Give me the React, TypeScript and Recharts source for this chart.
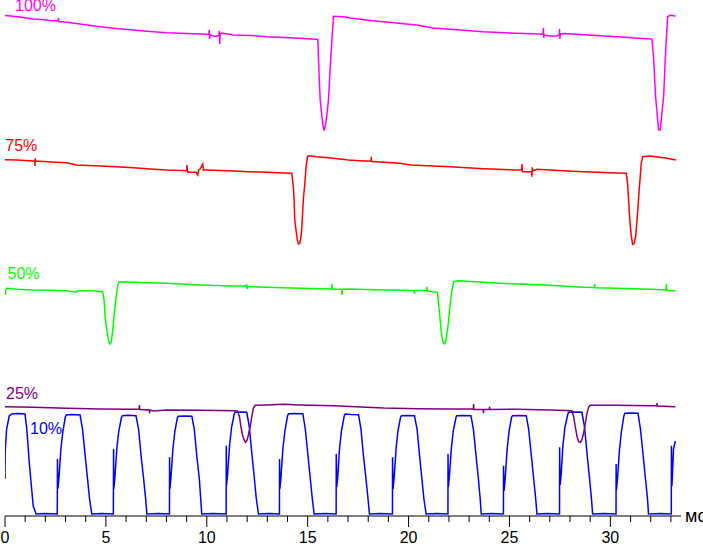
import React from 'react';
import { LineChart, Line, XAxis, YAxis } from 'recharts';

// ---- Data (time in ms, signal in relative units) ----
const xTicks = [0, 1, 2, 3, 4, 5, 6, 7, 8, 9, 10, 11, 12, 13, 14, 15, 16, 17, 18, 19, 20, 21, 22, 23, 24, 25, 26, 27, 28, 29, 30, 31, 32, 33];
const majorTicks = [0, 5, 10, 15, 20, 25, 30];
const unitLabel = 'мс';
const traceNames = ['100%', '75%', '50%', '25%', '10%'];

const trace100: number[][] = [
  [0, 115.5], [0.74, 114], [1.39, 112], [1.98, 111.3], [2.2, 110.5], [2.63, 110], [2.65, 113], [2.67, 109.5], [3.07, 108.7], [3.9, 106.5],
  [4.71, 104.3], [5.5, 102.5], [6.35, 101], [7.19, 99.5], [8.03, 98.3], [9.0, 97.5], [9.67, 97], [10.1, 96.5], [10.12, 101], [10.14, 92],
  [10.16, 96], [10.31, 95], [10.45, 94.5], [10.6, 96], [10.62, 100], [10.64, 87], [10.66, 97], [10.75, 98], [11.3, 96], [12.2, 95.5],
  [12.99, 94.3], [13.8, 93.5], [14.63, 92.7], [15.42, 91.7], [15.5, 91.5], [15.58, 49], [15.62, 31], [15.7, 16], [15.75, 6], [15.82, 0.3],
  [15.88, 6], [15.95, 16], [16.03, 31], [16.11, 61], [16.2, 91], [16.28, 114.7], [16.5, 114.5], [16.9, 114], [17.11, 113], [17.5, 112],
  [18.1, 110.5], [18.75, 109.3], [19.9, 107], [20.41, 106], [21.22, 103], [22.06, 101.7], [22.9, 100.5], [23.7, 99.3], [24.5, 98.5], [25.37, 97.7],
  [26.1, 97.2], [26.67, 96.7], [26.68, 103], [26.7, 93], [26.72, 96], [27.0, 95], [27.3, 95], [27.47, 96], [27.48, 102], [27.5, 92],
  [27.52, 97], [27.7, 97.5], [28.67, 96.3], [29.5, 95.3], [30.33, 94.3], [31.2, 93], [32.0, 92], [32.06, 91.7], [32.14, 74.3], [32.19, 54.3],
  [32.24, 34.3], [32.31, 19.3], [32.39, 1], [32.47, 1], [32.56, 19.3], [32.64, 34.3], [32.71, 67.7], [32.77, 91], [32.84, 114.3], [32.97, 115.7],
  [33.22, 115],
];

const trace75: number[][] = [
  [0, 85.3], [0.6, 85], [1.4, 84], [1.48, 84], [1.49, 79], [1.5, 86.7], [1.52, 84], [2.3, 83], [3.06, 82.3], [3.55, 80],
  [4.71, 79], [5.5, 78.3], [6.36, 77.3], [7.2, 76], [8.02, 75], [9.01, 74.3], [9.02, 80], [9.04, 74], [9.07, 72.7], [9.47, 72.7],
  [9.55, 70], [9.6, 75], [9.67, 76], [9.8, 81], [9.83, 75], [10.0, 75], [11.32, 74], [12.1, 73.3], [12.97, 72.7], [14.13, 71.7],
  [14.21, 71.7], [14.29, 58.3], [14.33, 43.3], [14.36, 25], [14.43, 13.3], [14.49, 5], [14.54, 1], [14.61, 1.7], [14.68, 10], [14.72, 21.7],
  [14.79, 46.7], [14.86, 61.7], [14.92, 78.3], [14.99, 88.3], [15.04, 89.3], [15.45, 88.3], [16.28, 86.7], [17.02, 85], [17.76, 84], [18.14, 84],
  [18.15, 88.3], [18.17, 83.5], [18.76, 82.7], [19.58, 81.7], [20.08, 80], [21.23, 79], [22.06, 78.3], [23.71, 76.3], [25.37, 75], [25.6, 75],
  [25.62, 81], [25.64, 73.5], [25.7, 73.3], [26.1, 73.5], [26.11, 68.3], [26.13, 77.7], [26.15, 74], [26.36, 75.7], [27.85, 74], [28.67, 73.3],
  [30.33, 72], [30.79, 71.7], [30.85, 61.7], [30.9, 46.7], [30.94, 31.7], [30.99, 18.3], [31.04, 8.3], [31.1, 0.7], [31.18, 1.7], [31.25, 8.3],
  [31.32, 25], [31.37, 38.3], [31.42, 53.3], [31.48, 68.3], [31.53, 81.7], [31.6, 88.3], [31.98, 89], [32.8, 86.7], [33.25, 85],
];

const trace50: number[][] = [
  [0, 54.3], [0.02, 50], [0.04, 54.5], [0.08, 56.7], [0.58, 55.7], [1.4, 55], [2.2, 54.7], [3.06, 54.3], [3.55, 52.7], [3.6, 54.3],
  [4.38, 54.3], [4.84, 53], [4.91, 45], [4.97, 26.7], [5.04, 16.7], [5.09, 10], [5.14, 3.3], [5.21, 1], [5.27, 3.3], [5.32, 11.7],
  [5.39, 25], [5.45, 38.3], [5.52, 50], [5.59, 60], [5.67, 63.3], [6.36, 62.7], [8.02, 61.7], [9.67, 60], [11.32, 59], [11.97, 59],
  [11.98, 61], [12.0, 56], [12.02, 58.5], [12.97, 57.7], [14.63, 56.7], [16.19, 56], [16.2, 61], [16.22, 55.7], [16.69, 55.7], [16.7, 50],
  [16.72, 55.7], [17.1, 56], [18.76, 55], [20.28, 54.5], [20.29, 51], [20.31, 54.5], [20.9, 54.5], [20.91, 58.3], [20.93, 54], [21.43, 52.7],
  [21.48, 43.3], [21.53, 31.7], [21.58, 21.7], [21.63, 11.7], [21.7, 3.3], [21.78, 1], [21.86, 5], [21.93, 15], [21.98, 23.3], [22.03, 35],
  [22.08, 45], [22.15, 55], [22.23, 63.3], [22.47, 64.3], [23.71, 62.7], [25.37, 61], [27.02, 59.7], [28.67, 57.7], [29.21, 57.5], [29.22, 61],
  [29.24, 57.3], [30.33, 56.7], [31.98, 55.7], [32.76, 55], [32.77, 61], [32.79, 55], [32.97, 54.3], [33.22, 54.3],
];

const trace25: number[][] = [
  [0, 36.3], [1.4, 35.7], [3.06, 34.7], [4.71, 34], [6.36, 33.7], [6.65, 33.7], [6.66, 38], [6.68, 33.5], [7.15, 33], [7.16, 29.7],
  [7.18, 33], [7.35, 32], [8.02, 33], [9.67, 32.7], [11.32, 32.3], [11.52, 32], [11.62, 26.3], [11.69, 16.3], [11.77, 8], [11.85, 3],
  [11.92, 0.7], [12.0, 3], [12.06, 8], [12.15, 16.3], [12.23, 26.3], [12.31, 34.7], [12.39, 37.7], [12.97, 38], [13.8, 38.7], [14.63, 38],
  [16.28, 37.3], [17.1, 36.5], [18.76, 35], [20.41, 34.3], [22.06, 34], [23.21, 34], [23.22, 39], [23.24, 33.5], [23.7, 33.5], [23.71, 29.7],
  [23.73, 33.5], [24.0, 33.5], [24.01, 36.3], [24.03, 33.5], [25.37, 33.7], [27.02, 33], [28.1, 32.3], [28.18, 26.3], [28.26, 16.3], [28.35, 6.3],
  [28.43, 1.3], [28.51, 0.7], [28.59, 3], [28.67, 9.7], [28.76, 19.7], [28.84, 29.7], [28.92, 35.7], [29.0, 37.7], [30.33, 37.7], [31.98, 37.3],
  [32.3, 37.3], [32.31, 40], [32.33, 37], [33.22, 36.3],
];

const trace10: number[][] = [
  [0, 36], [0.01, 64], [0.08, 86], [0.21, 99], [0.33, 101], [0.64, 101.5], [0.99, 101], [1.08, 86], [1.2, 53], [1.32, 26], [1.4, 9], [1.54, 1], [2.0, 1.5], [2.59, 1],
  [2.6, 56], [2.62, 26], [2.67, 36], [2.77, 66], [2.87, 84], [2.99, 98], [3.04, 100], [3.34, 100.5], [3.72, 100], [3.84, 86], [3.97, 60], [4.09, 36], [4.19, 16], [4.3, 1], [4.8, 1.5], [5.37, 1],
  [5.38, 66], [5.39, 26], [5.44, 36], [5.54, 66], [5.64, 84], [5.77, 97.5], [5.82, 99.3], [6.11, 99.8], [6.49, 99.3], [6.62, 86], [6.74, 60], [6.87, 36], [6.97, 16], [7.03, 1], [7.6, 1.5], [8.15, 1],
  [8.155, 57.7], [8.17, 26], [8.22, 36], [8.32, 66], [8.42, 84], [8.54, 97], [8.59, 98.7], [8.89, 99], [9.26, 98.7], [9.38, 86], [9.5, 60], [9.63, 36], [9.7, 16], [9.75, 1], [10.3, 1.5], [10.96, 1],
  [10.965, 69.3], [10.98, 30], [11.03, 40], [11.13, 70], [11.23, 88], [11.35, 100], [11.4, 102.7], [11.7, 103], [11.98, 102.7], [12.11, 88], [12.23, 62], [12.35, 38], [12.45, 17], [12.56, 1], [13.1, 1.5], [13.6, 1],
  [13.605, 56], [13.62, 26], [13.67, 36], [13.77, 66], [13.87, 84], [14.0, 99], [14.05, 101.3], [14.34, 101.5], [14.76, 101.3], [14.88, 86], [15.01, 60], [15.13, 36], [15.23, 16], [15.32, 1], [15.9, 1.5], [16.41, 1],
  [16.415, 61], [16.44, 28], [16.49, 38], [16.58, 67], [16.68, 85], [16.81, 99], [16.86, 101], [17.15, 100.5], [17.52, 100.3], [17.64, 86], [17.76, 60], [17.89, 36], [17.99, 16], [18.06, 1], [18.6, 1.5], [19.2, 1],
  [19.205, 57.7], [19.23, 26], [19.28, 36], [19.38, 66], [19.47, 84], [19.6, 97.5], [19.65, 99.3], [19.95, 99.6], [20.29, 99.3], [20.42, 86], [20.54, 60], [20.66, 36], [20.76, 16], [20.87, 1], [21.4, 1.5], [21.95, 1],
  [21.955, 61], [21.97, 28], [22.02, 38], [22.12, 67], [22.22, 85], [22.35, 97.5], [22.39, 99.3], [22.69, 99.6], [23.09, 99.3], [23.21, 86], [23.34, 60], [23.46, 36], [23.55, 16], [23.6, 1], [24.1, 1.5], [24.7, 1],
  [24.705, 49.3], [24.73, 24], [24.78, 34], [24.88, 65], [24.98, 84], [25.1, 97.5], [25.15, 99.3], [25.45, 99.6], [25.83, 99.3], [25.95, 86], [26.08, 60], [26.2, 36], [26.3, 16], [26.36, 1], [26.9, 1.5], [27.48, 1],
  [27.485, 67.7], [27.51, 30], [27.56, 40], [27.65, 70], [27.75, 88], [27.88, 100], [27.93, 102.7], [28.22, 103], [28.59, 102.7], [28.72, 88], [28.84, 62], [28.96, 38], [29.06, 17], [29.12, 1], [29.7, 1.5], [30.28, 1],
  [30.285, 51], [30.3, 25], [30.35, 35], [30.45, 65], [30.55, 84], [30.67, 99], [30.72, 101.7], [31.02, 102], [31.37, 101.7], [31.49, 86], [31.62, 60], [31.74, 36], [31.84, 16], [31.89, 1], [32.5, 1.5], [33.02, 1],
  [33.025, 69.3], [33.05, 29], [33.13, 66], [33.22, 74],
];

const toRows = (pts: number[][]) => pts.map(([t, v]) => ({ t, v }));

const FONT = '"Liberation Sans", Arial, sans-serif';

const AxisTick = (props: any) => {
  const { x, y, payload } = props;
  const major = majorTicks.includes(payload.value);
  return (
    <g>
      <line x1={x} x2={x} y1={y} y2={y + (major ? 11 : 6)} stroke="#000" strokeWidth={1} />
      {major && (
        <text x={x} y={y + 26.5} textAnchor="middle" fontSize={16} fontFamily={FONT} fill="#000">
          {payload.value}
        </text>
      )}
    </g>
  );
};

export default function App() {
  const W = 703;
  const H = 544;
  const series = [
    { name: traceNames[4], data: toRows(trace10), color: '#0000ff', axis: 'b', domain: [-1, 515], lx: 30, ly: 434 },
    { name: traceNames[3], data: toRows(trace25), color: '#800080', axis: 'p', domain: [443 - 516, 443], lx: 6, ly: 399 },
    { name: traceNames[2], data: toRows(trace50), color: '#00ff00', axis: 'g', domain: [345 - 516, 345], lx: 7.5, ly: 279 },
    { name: traceNames[1], data: toRows(trace75), color: '#ff0000', axis: 'r', domain: [245 - 516, 245], lx: 5.3, ly: 151 },
    { name: traceNames[0], data: toRows(trace100), color: '#ff00ff', axis: 'm', domain: [131 - 516, 131], lx: 15, ly: 11 },
  ];
  return (
    <div style={{ position: 'absolute', left: 0, top: 0, width: W, height: H, background: '#fff' }}>
      <LineChart width={W} height={H} margin={{ top: 0, right: 22, bottom: 0, left: 5 }}>
        <XAxis
          dataKey="t"
          type="number"
          domain={[0, 33.5]}
          ticks={xTicks}
          interval={0}
          height={28}
          tickSize={0}
          tickMargin={0}
          tickLine={false}
          axisLine={{ stroke: '#000', strokeWidth: 1 }}
          tick={<AxisTick />}
          allowDataOverflow
          label={(p: any) => {
            const vb = p.viewBox || {};
            return (
              <text x={(vb.x ?? 5) + (vb.width ?? 676) + 4} y={(vb.y ?? 516) + 6} fontSize={18} fontFamily={FONT} fill="#000">
                {unitLabel}
              </text>
            );
          }}
        />
        {series.map((s) => (
          <YAxis key={s.axis} yAxisId={s.axis} type="number" domain={s.domain} hide allowDataOverflow />
        ))}
        {series.map((s) => (
          <Line
            key={s.name}
            yAxisId={s.axis}
            data={s.data}
            dataKey="v"
            type="linear"
            stroke={s.color}
            strokeWidth={1.5}
            dot={false}
            activeDot={false}
            isAnimationActive={false}
          />
        ))}
        {series.map((s) => (
          <text key={'l' + s.name} x={s.lx} y={s.ly} fontSize={16} fontFamily={FONT} fill={s.color}>
            {s.name}
          </text>
        ))}
      </LineChart>
    </div>
  );
}
